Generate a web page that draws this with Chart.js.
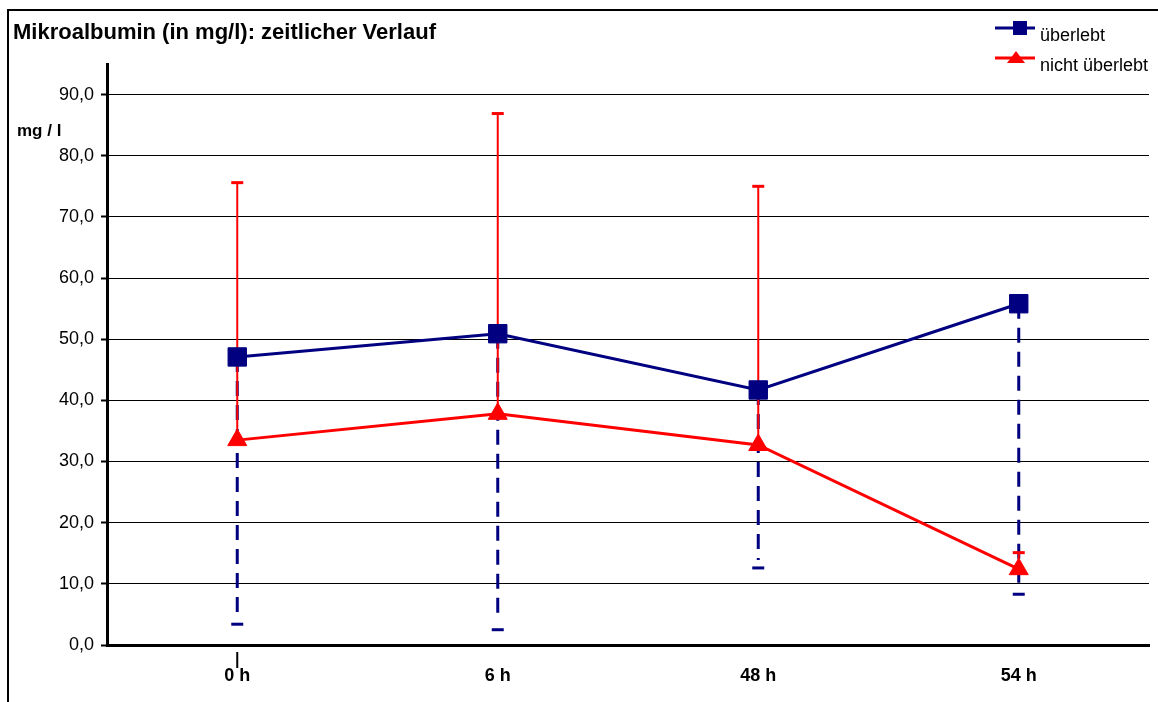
<!DOCTYPE html>
<html lang="de">
<head>
    <meta charset="UTF-8">
    <title>Mikroalbumin - zeitlicher Verlauf</title>
    <script src="https://cdn.jsdelivr.net/npm/chart.js"></script>
    <style>
        html, body { margin: 0; padding: 0; background: #fff; }
        .chart-box { position: relative; width: 1158px; height: 702px; }
    </style>
</head>
<body>
    <div class="chart-box">
        <canvas id="albuminChart"></canvas>
    </div>

    <script>
        // Values
        const categories = ['0 h', '6 h', '48 h', '54 h'];
        const survived = [47.1, 50.9, 41.7, 55.8];
        const survivedLow = [3.4, 2.5, 12.6, 8.3];
        const died = [33.5, 37.8, 32.7, 12.4];
        const diedHigh = [75.6, 86.9, 75.0, 15.1];
        const yTicks = [0, 10, 20, 30, 40, 50, 60, 70, 80, 90];

        const FONT = '"Liberation Sans", Arial, sans-serif';
        const NAVY = '#000080';
        const RED = '#FF0000';
        Chart.defaults.font.family = FONT;

        // Frame, title, axis caption, error bars and legend
        const decorations = {
            id: 'decorations',
            beforeDatasetsDraw(chart) {
                const ctx = chart.ctx;
                const xs = chart.scales.x, ys = chart.scales.y;
                ctx.save();
                // blue: dashed lower error bars
                categories.forEach((c, i) => {
                    const x = xs.getPixelForValue(i);
                    const y1 = ys.getPixelForValue(survived[i]);
                    const y2 = ys.getPixelForValue(survivedLow[i]);
                    ctx.strokeStyle = NAVY;
                    ctx.lineWidth = 3;
                    ctx.setLineDash([15, 9]);
                    ctx.beginPath();
                    ctx.moveTo(x, y1);
                    ctx.lineTo(x, y2 - 8);
                    ctx.stroke();
                    ctx.setLineDash([]);
                    ctx.beginPath();
                    ctx.moveTo(x - 6, y2);
                    ctx.lineTo(x + 6, y2);
                    ctx.stroke();
                });
                // red: solid upper error bars
                categories.forEach((c, i) => {
                    const x = xs.getPixelForValue(i);
                    const y1 = ys.getPixelForValue(died[i]);
                    const y2 = ys.getPixelForValue(diedHigh[i]);
                    ctx.strokeStyle = RED;
                    ctx.lineWidth = 2;
                    ctx.beginPath();
                    ctx.moveTo(x, y1);
                    ctx.lineTo(x, y2);
                    ctx.stroke();
                    ctx.lineWidth = 3;
                    ctx.beginPath();
                    ctx.moveTo(x - 6, y2);
                    ctx.lineTo(x + 6, y2);
                    ctx.stroke();
                });
                ctx.restore();
            },
            afterDraw(chart) {
                const ctx = chart.ctx;
                const xs = chart.scales.x;
                ctx.save();
                // outer frame (left and top)
                ctx.strokeStyle = '#000';
                ctx.lineWidth = 2;
                ctx.beginPath();
                ctx.moveTo(8, 702);
                ctx.lineTo(8, 10);
                ctx.lineTo(1158, 10);
                ctx.stroke();

                // title
                ctx.fillStyle = '#000';
                ctx.textBaseline = 'alphabetic';
                ctx.font = 'bold 22px ' + FONT;
                ctx.fillText('Mikroalbumin (in mg/l): zeitlicher Verlauf', 13, 39);

                // unit caption
                ctx.font = 'bold 17px ' + FONT;
                ctx.fillText('mg / l', 17, 136);

                // single tick mark under the first category
                const x0 = xs.getPixelForValue(0);
                ctx.lineWidth = 2;
                ctx.beginPath();
                ctx.moveTo(x0, 652);
                ctx.lineTo(x0, 668);
                ctx.stroke();

                // legend
                const ds = chart.data.datasets;
                const rows = [28, 58];
                ds.forEach((d, i) => {
                    const y = rows[i];
                    ctx.strokeStyle = d.borderColor;
                    ctx.fillStyle = d.borderColor;
                    ctx.lineWidth = 3;
                    ctx.beginPath();
                    ctx.moveTo(995, y);
                    ctx.lineTo(1035, y);
                    ctx.stroke();
                    if (d.pointStyle === 'rect') {
                        ctx.fillRect(1013, y - 7, 14, 14);
                    } else {
                        ctx.beginPath();
                        ctx.moveTo(1016, y - 7);
                        ctx.lineTo(1025, y + 5);
                        ctx.lineTo(1007, y + 5);
                        ctx.closePath();
                        ctx.fill();
                    }
                    ctx.fillStyle = '#000';
                    ctx.font = '18px ' + FONT;
                    ctx.fillText(d.label, 1040, y + 13);
                });
                ctx.restore();
            }
        };

        const ctx = document.getElementById('albuminChart').getContext('2d');
        new Chart(ctx, {
            type: 'line',
            data: {
                labels: categories,
                datasets: [
                    {
                        label: 'überlebt',
                        data: survived,
                        borderColor: NAVY,
                        backgroundColor: NAVY,
                        borderWidth: 3,
                        pointStyle: 'rect',
                        pointRadius: 13,
                        pointBorderWidth: 1,
                        tension: 0,
                        order: 0
                    },
                    {
                        label: 'nicht überlebt',
                        data: died,
                        borderColor: RED,
                        backgroundColor: RED,
                        borderWidth: 3,
                        pointStyle: 'triangle',
                        pointRadius: 11,
                        pointBorderWidth: 1,
                        tension: 0,
                        order: 1
                    }
                ]
            },
            options: {
                responsive: true,
                maintainAspectRatio: false,
                animation: false,
                layout: {
                    autoPadding: false,
                    padding: { top: 64, right: 9, left: 0, bottom: 0 }
                },
                plugins: {
                    legend: { display: false },
                    title: { display: false },
                    tooltip: { enabled: false }
                },
                scales: {
                    x: {
                        type: 'category',
                        offset: true,
                        grid: { display: true, drawOnChartArea: false, drawTicks: false },
                        border: { display: true, color: '#000', width: 3 },
                        ticks: {
                            color: '#000',
                            padding: 20,
                            maxRotation: 0,
                            font: { size: 18, weight: 'bold' }
                        },
                        afterFit(scale) {
                            scale.height = 57;
                            scale.paddingLeft = 0;
                            scale.paddingRight = 0;
                        }
                    },
                    y: {
                        min: 0,
                        max: 95,
                        afterBuildTicks(scale) {
                            scale.ticks = yTicks.map(v => ({ value: v }));
                        },
                        grid: {
                            color: '#000',
                            lineWidth: 1,
                            drawTicks: true,
                            tickLength: 6,
                            tickWidth: 2,
                            tickColor: '#000'
                        },
                        border: { display: true, color: '#000', width: 3 },
                        ticks: {
                            color: '#000',
                            padding: 7,
                            font: { size: 18 },
                            callback: v => v.toFixed(1).replace('.', ',')
                        },
                        afterFit(scale) { scale.width = 107; }
                    }
                }
            },
            plugins: [decorations]
        });
    </script>
</body>
</html>
